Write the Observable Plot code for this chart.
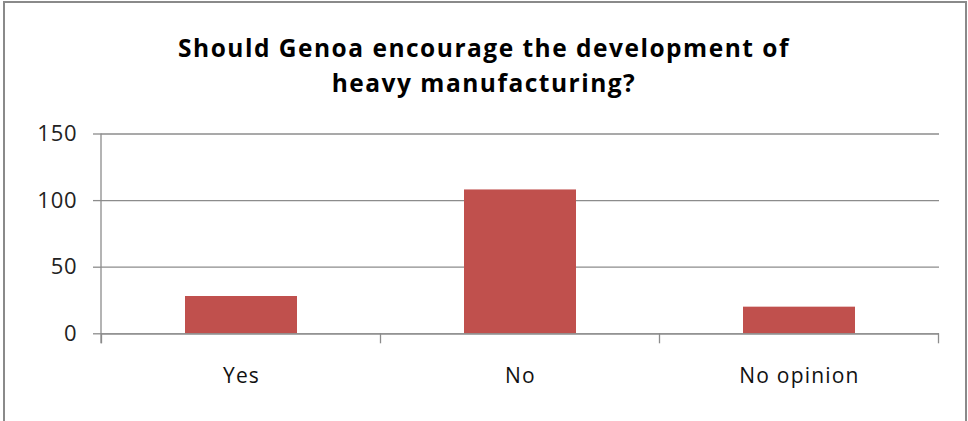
<!DOCTYPE html>
<html>
<head>
<meta charset="utf-8">
<script src="https://cdn.jsdelivr.net/npm/d3@7"></script>
<script src="https://cdn.jsdelivr.net/npm/@observablehq/plot@0.6"></script>
<style>
html, body { margin: 0; padding: 0; background: #fff; width: 968px; height: 421px; overflow: hidden; }
#wrap { position: relative; width: 968px; height: 421px; overflow: hidden; }
#frame { position: absolute; left: 3px; top: 1px; width: 964px; height: 440px; border: 2px solid #8a8a8a; box-sizing: border-box; }
#title { position: absolute; left: 0; top: 30px; width: 968px; text-align: center; font-family: "Open Sans", sans-serif; font-weight: bold; font-size: 24.5px; letter-spacing: 1.5px; line-height: 35px; color: #000; }
#chart { position: absolute; left: 0; top: 115px; }
#chart g[aria-label="x-axis tick label"] text { letter-spacing: 1.2px; }
#chart g[aria-label="y-axis tick label"] text { letter-spacing: 0.8px; }
</style>
</head>
<body>
<div id="wrap">
  <div id="frame"></div>
  <div id="title">Should Genoa encourage the development of<br>heavy manufacturing?</div>
  <div id="chart"></div>
</div>
<script>
const categories = ["Yes", "No", "No opinion"];
const values = [28, 108, 20];
const yTicks = [0, 50, 100, 150];

const data = categories.map((c, i) => ({category: c, value: values[i]}));
const gridColor = "#8c8c8c";

// category boundary ticks and left axis line, positioned from the scales
function axisFrame(index, scales, channels, dimensions) {
  const x = scales.x, y = scales.y;
  const step = x(categories[1]) - x(categories[0]);
  const bw = (scales.scales && scales.scales.x && scales.scales.x.bandwidth) || step * 0.4;
  const half = (step - bw) / 2;
  const bounds = categories.map(c => x(c) - half);
  bounds.push(x(categories[categories.length - 1]) + bw + half);
  const y0 = y(0);
  const g = d3.create("svg:g").attr("stroke", gridColor).attr("stroke-width", 1.3);
  g.selectAll("line.b").data(bounds).join("line")
    .attr("x1", d => d).attr("x2", d => d)
    .attr("y1", y0).attr("y2", y0 + 10);
  g.append("line")
    .attr("x1", dimensions.marginLeft).attr("x2", dimensions.marginLeft)
    .attr("y1", y(yTicks[yTicks.length - 1])).attr("y2", y0 + 10);
  return g.node();
}

const chart = Plot.plot({
  width: 968,
  height: 306,
  marginLeft: 101,
  marginRight: 29,
  marginTop: 18.5,
  marginBottom: 87.7,
  x: {domain: categories, paddingInner: 0.6, paddingOuter: 0.3, align: 0.5},
  y: {domain: [0, 150]},
  style: {fontFamily: "'Open Sans', sans-serif", fontSize: "21px", color: "#000", background: "transparent", overflow: "visible"},
  marks: [
    Plot.ruleY(yTicks, {stroke: gridColor, strokeWidth: 1.3}),
    Plot.barY(data, {x: "category", y: "value", fill: "#C0504D"}),
    Plot.ruleY([0], {stroke: gridColor, strokeWidth: 1.3}),
    Plot.axisY({ticks: yTicks, tickSize: 8, tickPadding: 16, stroke: gridColor, strokeWidth: 1.3, strokeOpacity: 1, label: null, fill: "#222", fontSize: 22}),
    Plot.axisX({tickSize: 0, tickPadding: 34, label: null, fill: "#111", fontSize: 21}),
    axisFrame
  ]
});
document.getElementById("chart").appendChild(chart);
</script>
</body>
</html>
